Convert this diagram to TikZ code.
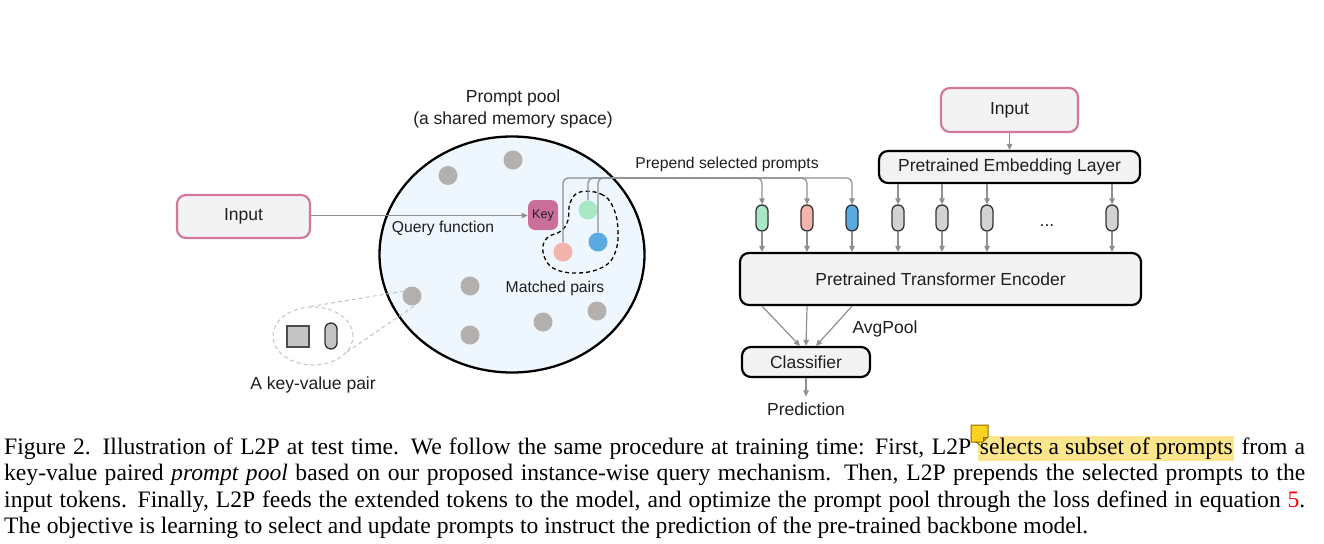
\documentclass[tikz,border=0pt]{standalone}
\usepackage{fontspec}
\setmainfont{Liberation Sans}
\newfontfamily\capfont{Liberation Serif}
\usetikzlibrary{arrows.meta,shapes.geometric,calc}
\definecolor{txt}{HTML}{1F1F1F}
\definecolor{boxfill}{HTML}{F3F3F3}
\definecolor{pinkline}{HTML}{D2789F}
\definecolor{keyfill}{HTML}{C96F9A}
\definecolor{poolfill}{HTML}{EEF6FE}
\definecolor{dotgray}{HTML}{B3B0AE}
\definecolor{pgreen}{HTML}{A9E8C6}
\definecolor{ppink}{HTML}{F4B4AD}
\definecolor{pblue}{HTML}{5AAAE1}
\definecolor{tokgray}{HTML}{D2D2D2}
\definecolor{arrgray}{HTML}{8F8F8F}
\definecolor{kvgray}{HTML}{C4C4C4}
\definecolor{hl}{HTML}{FCE68C}
\definecolor{notegold}{HTML}{FFD21F}
\definecolor{notebrown}{HTML}{8A6A00}
\newcommand\fbig{\fontsize{17.5}{22}\selectfont}
\newcommand\fsmall{\fontsize{15.7}{19}\selectfont}
\newcommand\fkey{\fontsize{12.5}{15}\selectfont}
\newcommand\fcap{\capfont\fontsize{23.6}{26.5}\selectfont}
\begin{document}
\begin{tikzpicture}[x=1pt,y=-1pt,
  every node/.style={text=txt},
  inbox/.style={draw=pinkline,fill=boxfill,line width=2.2pt,rounded corners=9pt,font=\fbig},
  blackbox/.style={draw=black,fill=boxfill,line width=2.2pt,rounded corners=9pt,font=\fbig},
  keybox/.style={fill=keyfill,rounded corners=7pt,minimum width=30pt,minimum height=30pt,inner sep=0pt,font=\fkey},
  dot/.style={circle,fill=dotgray,minimum size=19pt,inner sep=0pt},
  token/.style={draw=black!80,line width=1.3pt,rounded corners=6pt,minimum width=12pt,minimum height=26pt,inner sep=0pt},
  arr/.style={draw=arrgray,line width=1.2pt,-{Triangle[length=6pt,width=5.5pt]}},
  lbl/.style={font=\fsmall,inner sep=0pt},
  biglbl/.style={font=\fbig,inner sep=0pt}]
\useasboundingbox (0,0) rectangle (1324,543);
\fill[white] (0,0) rectangle (1324,543);

% ---------- prompt pool ----------
\node[ellipse,draw=black,line width=2.3pt,fill=poolfill,minimum width=265pt,minimum height=236pt,inner sep=0pt] (pool) at (512,254.5) {};
\node[biglbl,align=center] (pooltitle) at (513,109) {Prompt pool\\(a shared memory space)};

\node[dot] (d1) at (448,175.5) {};
\node[dot] (d2) at (513,160) {};
\node[dot] (d3) at (412,296) {};
\node[dot] (d4) at (470,286) {};
\node[dot] (d5) at (470,335) {};
\node[dot] (d6) at (543,322) {};
\node[dot] (d7) at (597,311) {};

% matched pairs
\draw[black,line width=1.3pt,dash pattern=on 4pt off 3pt]
  plot[smooth cycle,tension=0.7] coordinates {(580,192) (601,194) (613,207) (618,230) (615,253) (603,267) (578,273) (553,268) (543,252) (547,238) (561,231) (568,220) (570,203)};
\node[dot,fill=pgreen] (pg) at (588,210) {};
\node[dot,fill=pblue] (pb) at (598,242) {};
\node[dot,fill=ppink] (pp) at (563,252) {};
\node[lbl] (matched) at (555,288) {Matched pairs};

\node[keybox] (key) at (543,215) {Key};
\node[lbl] (query) at (443,228) {Query function};

% key-value pair detail
\node[ellipse,draw=kvgray,line width=1pt,dash pattern=on 4pt off 3pt,minimum width=80pt,minimum height=58pt,inner sep=0pt] (kv) at (313,336) {};
\draw[kvgray,line width=1pt,dash pattern=on 4pt off 3pt] (kv.95) -- (d3.150);
\draw[kvgray,line width=1pt,dash pattern=on 4pt off 3pt] (kv.-25) -- (d3.-70);
\node[draw=black!70,fill=kvgray,line width=1.3pt,minimum width=22pt,minimum height=21pt,inner sep=0pt] (kvk) at (298,336.5) {};
\node[token,fill=kvgray] (kvv) at (331,336) {};
\node[biglbl] (kvlbl) at (313,385) {A key-value pair};

% ---------- left input ----------
\node[inbox,minimum width=133pt,minimum height=43pt] (in1) at (243.5,216.5) {Input};
\draw[arr] (in1.east |- 0,215.5) -- (key.west |- 0,215.5);

% ---------- right side ----------
\node[inbox,minimum width=137pt,minimum height=44pt] (in2) at (1009.5,110) {Input};
\node[blackbox,minimum width=261pt,minimum height=32pt,inner sep=0pt] (emb) at (1009.5,167) {Pretrained Embedding Layer};
\node[blackbox,minimum width=401pt,minimum height=52pt] (enc) at (940.5,279) {Pretrained Transformer Encoder};
\node[blackbox,minimum width=128pt,minimum height=30pt,inner sep=0pt] (cls) at (806,362) {Classifier};
\node[biglbl] (pred) at (806,409) {Prediction};
\node[biglbl] (avg) at (885,329) {AvgPool};
\node[lbl] (prep) at (727,164) {Prepend selected prompts};

\node[token,fill=pgreen] (t1) at (762,218) {};
\node[token,fill=ppink] (t2) at (807,218) {};
\node[token,fill=pblue] (t3) at (852,218) {};
\node[token,fill=tokgray] (t4) at (898,218) {};
\node[token,fill=tokgray] (t5) at (942,218) {};
\node[token,fill=tokgray] (t6) at (987,218) {};
\node[token,fill=tokgray] (t7) at (1112,218) {};
\node[biglbl,anchor=base] (dots) at (1047,226) {...};

\draw[arr] (in2.south) -- (emb.north);

\coordinate (h1) at (762,178);
\coordinate (h2) at (807,178);
\coordinate (h3) at (852,178);
\draw[arr,rounded corners=5pt] (pp.north) |- (h1) -- (t1.north);
\draw[arr,rounded corners=5pt] (pg.north) |- (h2) -- (t2.north);
\draw[arr,rounded corners=5pt] (pb.north) |- (h3) -- (t3.north);

\foreach \t in {t4,t5,t6,t7} {\draw[arr] (\t |- emb.south) -- (\t.north);}
\foreach \t in {t1,t2,t3,t4,t5,t6,t7} {\draw[arr] (\t.south) -- (\t |- enc.north);}

\draw[arr] (t1 |- enc.south) -- ($(cls.north)+(-6,0)$);
\draw[arr] (t2 |- enc.south) -- (cls.north);
\draw[arr] (t3 |- enc.south) -- ($(cls.north)+(10,0)$);
\draw[arr,shorten >=6pt] (cls.south) -- (pred.north);

% ---------- caption ----------
\node[anchor=base west,inner sep=0pt,font=\fcap,text=black] (cap1) at (4,454) {\hbox to 1301pt{Figure 2. Illustration of L2P at test time. We follow the same procedure at training time: First, L2P {\setlength\fboxsep{1.5pt}\colorbox{hl}{\rule[-4pt]{0pt}{20pt}selects a subset of prompts}} from a}};
\node[anchor=base west,inner sep=0pt,font=\fcap,text=black] (cap2) at (4,480.5) {\hbox to 1301pt{key-value paired \textit{prompt pool} based on our proposed instance-wise query mechanism. Then, L2P prepends the selected prompts to the}};
\node[anchor=base west,inner sep=0pt,font=\fcap,text=black] (cap3) at (4,507) {\hbox to 1301pt{input tokens. Finally, L2P feeds the extended tokens to the model, and optimize the prompt pool through the loss defined in equation {\color{red}5}.}};
\node[anchor=base west,inner sep=0pt,font=\fcap,text=black] (cap4) at (4,533.5) {The objective is learning to select and update prompts to instruct the prediction of the pre-trained backbone model.};

% note icon
\draw[fill=notegold,draw=notebrown,line width=1pt] (971,425) -- (988,425) -- (988,437) -- (983,442) -- (971,442) -- cycle;
\draw[fill=notebrown!60!notegold,draw=notebrown,line width=0.8pt] (988,437) -- (983,437) -- (983,442);
\draw[notebrown,line width=1pt] (976,442) -- (981,446);
\end{tikzpicture}
\end{document}
